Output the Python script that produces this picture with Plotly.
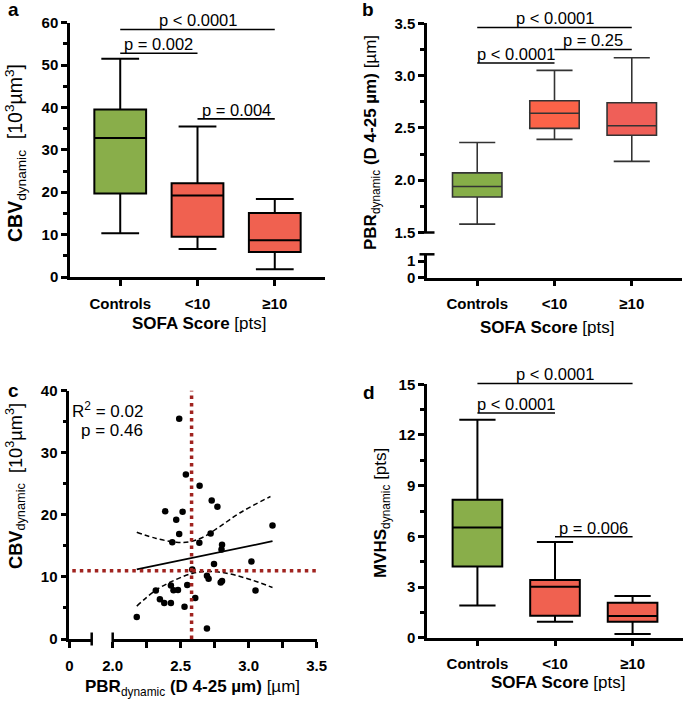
import numpy as np
import plotly.graph_objects as go

W, H = 685, 702
FONT = "Liberation Sans, Arial, sans-serif"

categories = ["Controls", "<10", "≥10"]

# Panel a: CBV dynamic [10^3 µm^3]
cbv_min = [10.3, 6.6, 1.8]
cbv_q1 = [19.7, 9.5, 5.9]
cbv_med = [32.8, 19.2, 8.7]
cbv_q3 = [39.5, 22.1, 15.1]
cbv_max = [51.5, 35.5, 18.4]

# Panel b: PBR dynamic (D 4-25 µm) [µm]
pbr_min = [1.58, 2.39, 2.18]
pbr_q1 = [1.84, 2.495, 2.43]
pbr_med = [1.94, 2.64, 2.52]
pbr_q3 = [2.07, 2.76, 2.74]
pbr_max = [2.36, 3.05, 3.17]

# Panel d: MVHS dynamic [pts]
mvhs_min = [1.91, 0.95, 0.22]
mvhs_q1 = [4.22, 1.30, 0.95]
mvhs_med = [6.53, 3.02, 1.28]
mvhs_q3 = [8.17, 3.41, 2.07]
mvhs_max = [12.9, 5.66, 2.47]

# Panel c: scatter PBR vs CBV
scatter_pbr = [2.177, 2.317, 2.347, 2.379, 2.386, 2.428, 2.428, 2.438, 2.447, 2.467,
               2.480, 2.489, 2.489, 2.514, 2.528, 2.538, 2.548, 2.607, 2.637, 2.639,
               2.693, 2.705, 2.720, 2.728, 2.745, 2.770, 2.693, 2.800, 2.804, 2.804,
               2.794, 3.020, 3.050, 3.175, 2.585]
scatter_cbv = [3.55, 7.8, 6.4, 5.8, 20.6, 5.8, 8.6, 15.6, 7.85, 19.2,
               7.9, 16.9, 35.5, 20.5, 5.2, 26.5, 8.7, 6.6, 15.5, 24.7,
               10.2, 9.7, 17.0, 22.3, 12.1, 21.3, 1.7, 14.4, 15.2, 9.35,
               9.1, 12.5, 7.8, 18.3, 11.2]
pbr_cut = 2.58
cbv_cut = 11.0

# regression line and 95% confidence band
reg_x = [2.177, 3.175]
reg_y = [11.2, 15.75]
ci_upper_x = [2.177, 2.32, 2.467, 2.565, 2.664, 2.787, 2.934, 3.16]
ci_upper_y = [17.2, 16.2, 15.6, 15.65, 16.4, 18.1, 20.3, 22.96]
ci_lower_x = [2.177, 2.32, 2.467, 2.59, 2.688, 2.81, 2.98, 3.175]
ci_lower_y = [5.3, 7.9, 9.6, 10.6, 10.9, 10.7, 9.8, 8.3]

# significance brackets: (from idx, to idx, y value, label)
brackets_a = [(0, 2, 58.4, "p < 0.0001"), (0, 1, 52.8, "p = 0.002"), (1, 2, 37.3, "p = 0.004")]
brackets_b = [(0, 2, 3.46, "p < 0.0001"), (0, 1, 3.12, "p < 0.0001"), (1, 2, 3.25, "p = 0.25")]
brackets_d = [(0, 2, 15.05, "p < 0.0001"), (0, 1, 13.3, "p < 0.0001"), (1, 2, 5.98, "p = 0.006")]

GREEN = "#89AE4A"
RED = "#F06150"

# pixel layout
A_X, A_Y = (70, 325), (22.7, 277)
B_X, B_YU, B_YL = (427, 682), (23.3, 232.5), (254.3, 277.5)
C_XL, C_XH, C_Y = (69.3, 91.7), (112.7, 316.7), (390.7, 639)
D_X, D_Y = (427, 683), (384.3, 637.7)


def dx(p):
    return [p[0] / W, p[1] / W]


def dy(p):
    return [1 - p[1] / H, 1 - p[0] / H]


fig = go.Figure()


def add_boxes(xa, ya, mins, q1s, meds, q3s, maxs, colors, lw, lc, width):
    for i, c in enumerate(categories):
        fig.add_trace(go.Box(
            x=[c], q1=[q1s[i]], median=[meds[i]], q3=[q3s[i]],
            lowerfence=[mins[i]], upperfence=[maxs[i]],
            fillcolor=colors[i], line=dict(color=lc, width=lw),
            width=width, whiskerwidth=0.73, boxpoints=False,
            xaxis=xa, yaxis=ya, showlegend=False, hoverinfo="skip"))


add_boxes("x", "y", cbv_min, cbv_q1, cbv_med, cbv_q3, cbv_max,
          [GREEN, RED, RED], 2, "black", 0.67)
add_boxes("x2", "y3", pbr_min, pbr_q1, pbr_med, pbr_q3, pbr_max,
          ["#86AE48", "#FB6348", "#EF5F58"], 1.6, "#333333", 0.64)
add_boxes("x6", "y6", mvhs_min, mvhs_q1, mvhs_med, mvhs_q3, mvhs_max,
          [GREEN, RED, RED], 2, "black", 0.64)

# placeholder traces so the broken-axis segments are drawn
fig.add_trace(go.Scatter(x=[categories[0]], y=[None], xaxis="x2", yaxis="y2",
                         mode="markers", showlegend=False, hoverinfo="skip"))
fig.add_trace(go.Scatter(x=[None], y=[None], xaxis="x4", yaxis="y4",
                         mode="markers", showlegend=False, hoverinfo="skip"))

# Panel c
fig.add_trace(go.Scatter(x=scatter_pbr, y=scatter_cbv, mode="markers", xaxis="x5", yaxis="y4",
                         marker=dict(color="black", size=6.5), showlegend=False,
                         hoverinfo="skip", cliponaxis=False))
fig.add_trace(go.Scatter(x=reg_x, y=reg_y, mode="lines", xaxis="x5", yaxis="y4",
                         line=dict(color="black", width=1.8), showlegend=False, hoverinfo="skip"))
for cx, cy in ((ci_upper_x, ci_upper_y), (ci_lower_x, ci_lower_y)):
    fig.add_trace(go.Scatter(x=cx, y=cy, mode="lines", xaxis="x5", yaxis="y4",
                             line=dict(color="black", width=1.5, dash="5px,3px", shape="spline",
                                       smoothing=1.0),
                             showlegend=False, hoverinfo="skip"))

shapes = []
annotations = []

RED_DOT = "#A0231F"
shapes.append(dict(type="line", xref="x5", yref="y4 domain", x0=pbr_cut, x1=pbr_cut, y0=0, y1=1,
                   line=dict(color=RED_DOT, width=3.5, dash="3.5px,4px")))
shapes.append(dict(type="line", xref="paper", yref="y4", x0=(C_XL[0] + 3) / W, x1=C_XH[1] / W,
                   y0=cbv_cut, y1=cbv_cut, line=dict(color=RED_DOT, width=3.5, dash="3.5px,4px")))


def add_brackets(br, xref, yref, lo, hi):
    for i, j, v, label in br:
        f = (v - lo) / (hi - lo)
        shapes.append(dict(type="line", xref=xref, yref=yref + " domain", x0=i, x1=j, y0=f, y1=f,
                           line=dict(color="black", width=1.6)))
        annotations.append(dict(text=label, xref=xref, yref=yref + " domain", x=(i + j) / 2, y=f,
                                xanchor="center", yanchor="bottom", showarrow=False, yshift=-2,
                                font=dict(family=FONT, size=16.5, color="black")))


add_brackets(brackets_a, "x", "y", 0, 60)
add_brackets(brackets_b, "x2", "y3", 1.5, 3.5)
add_brackets(brackets_d, "x6", "y6", 0, 15)

# axis break markers
brk = dict(color="black", width=2.5)
shapes.append(dict(type="line", xref="x2 domain", yref="y3 domain", xsizemode="pixel", xanchor=0,
                   x0=-7.5, x1=7.5, y0=0, y1=0, line=brk))
shapes.append(dict(type="line", xref="x2 domain", yref="y2 domain", xsizemode="pixel", xanchor=0,
                   x0=-7.5, x1=7.5, y0=1, y1=1, line=brk))
shapes.append(dict(type="line", xref="x4 domain", yref="y4 domain", ysizemode="pixel", yanchor=0,
                   x0=1, x1=1, y0=-6.5, y1=6.5, line=brk))
shapes.append(dict(type="line", xref="x5 domain", yref="y4 domain", ysizemode="pixel", yanchor=0,
                   x0=0, x1=0, y0=-6.5, y1=6.5, line=brk))


def ann(text, px, py, size, angle=0, xanchor="center", yanchor="middle"):
    annotations.append(dict(text=text, xref="paper", yref="paper", x=px / W, y=1 - py / H,
                            xanchor=xanchor, yanchor=yanchor, showarrow=False, textangle=angle,
                            font=dict(family=FONT, size=size, color="black")))


# panel letters
ann("<b>a</b>", 13, 10, 19)
ann("<b>b</b>", 368, 10, 19)
ann("<b>c</b>", 13, 391, 19)
ann("<b>d</b>", 369, 392, 19)

# axis titles
nb = "\u00a0"
ann("<b>CBV</b><sub>dynamic</sub>" + nb * 2 + "[10<sup>3</sup>µm<sup>3</sup>]", 15, 153, 19.5, -90)
ann("<b>PBR</b><sub>dynamic</sub><b> (D 4-25 µm)</b> [µm]", 372, 143, 17, -90)
ann("<b>CBV</b><sub>dynamic</sub>" + nb * 2 + "[10<sup>3</sup>µm<sup>3</sup>]", 15, 486, 18.2, -90)
ann("<b>MVHS</b><sub>dynamic</sub> [pts]", 382, 513, 17, -90)
ann("<b>SOFA Score</b> [pts]", 200, 323, 17)
ann("<b>SOFA Score</b> [pts]", 547, 327, 17)
ann("<b>PBR</b><sub>dynamic</sub><b> (D 4-25 µm)</b> [µm]", 192, 688, 17)
ann("<b>SOFA Score</b> [pts]", 558, 682, 17)

# panel c stats
ann("R<sup>2</sup> = 0.02", 145, 410, 17, xanchor="right")
ann("p = 0.46", 145, 430, 17, xanchor="right")

tickfont = dict(family=FONT, size=15, color="black", weight="bold")
base = dict(showline=True, linecolor="black", linewidth=2.5, ticks="outside", ticklen=6,
            tickwidth=2.5, tickcolor="black", showgrid=False, zeroline=False,
            tickfont=tickfont, fixedrange=True, automargin=False)


def cat_axis(domain, anchor):
    return dict(base, domain=dx(domain), anchor=anchor, type="category",
                categoryorder="array", categoryarray=categories, range=[-0.65, 2.65],
                ticklabelstandoff=5)


def minor(dt, ln=4):
    return dict(dtick=dt, ticklen=ln, tickwidth=2.5, tickcolor="black", ticks="outside")


fig.update_layout(
    width=W, height=H, margin=dict(l=0, r=0, t=0, b=0, autoexpand=False),
    plot_bgcolor="white", paper_bgcolor="white", showlegend=False,
    xaxis=cat_axis(A_X, "y"),
    yaxis=dict(base, domain=dy(A_Y), anchor="x", range=[0, 60], dtick=10, minor=minor(5)),
    xaxis2=cat_axis(B_X, "y2"),
    yaxis2=dict(base, domain=dy(B_YL), anchor="x2", range=[0, (B_YL[1] - B_YL[0]) / 16.5],
                tickvals=[0, 1], ticktext=["0", "1"]),
    yaxis3=dict(base, domain=dy(B_YU), anchor="x2", range=[1.5, 3.5], tick0=1.5, dtick=0.5,
                tickformat=".1f", minor=minor(0.25)),
    xaxis4=dict(base, domain=dx(C_XL), anchor="y4", range=[0, 0.2], tickvals=[0], ticktext=["0"],
                ticklabelstandoff=5),
    xaxis5=dict(base, domain=dx(C_XH), anchor="y4", range=[2.0, 3.5], tick0=2.0, dtick=0.5,
                tickformat=".1f", minor=minor(0.25, 6), ticklabelstandoff=5),
    yaxis4=dict(base, domain=dy(C_Y), anchor="x4", range=[0, 40], dtick=10, minor=minor(5)),
    xaxis6=cat_axis(D_X, "y6"),
    yaxis6=dict(base, domain=dy(D_Y), anchor="x6", range=[0, 15], dtick=3, minor=minor(1.5)),
    shapes=shapes, annotations=annotations,
)

fig.write_html("out.html", config={"displayModeBar": False},
               post_script="document.body.style.margin='0';")
